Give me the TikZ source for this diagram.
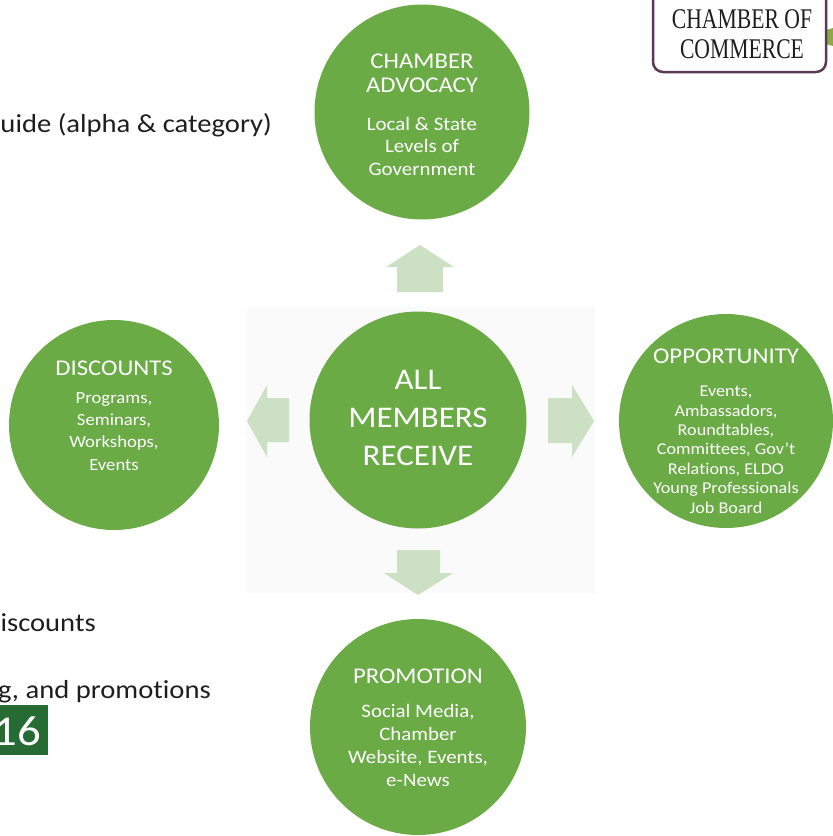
\documentclass[tikz,border=0pt]{standalone}
\usepackage{fontspec}
\setmainfont{Carlito}[FakeStretch=1.1, Ligatures=NoCommon]
\newfontfamily\sealfont{Liberation Serif}[FakeStretch=0.76]
\usepackage{xcolor}
\usepackage{tikz}
\definecolor{leafgreen}{RGB}{106,171,69}
\definecolor{flowgreen}{RGB}{204,224,196}
\definecolor{boxgreen}{RGB}{38,107,52}
\definecolor{sealrim}{RGB}{92,58,84}
\definecolor{sealtab}{RGB}{140,170,70}
\definecolor{inkgray}{RGB}{30,30,30}

\begin{document}
\begin{tikzpicture}[x=1pt,y=-1pt,
  bubble/.style={circle, fill=leafgreen, inner sep=0pt},
  flow/.style={fill=flowgreen},
  head/.style={anchor=base, align=center, text=white, inner sep=0pt,
    font=\fontsize{22.5}{24}\selectfont},
  body/.style={anchor=base, align=center, text=white, inner sep=0pt},
  slide/.style={anchor=base east, text=inkgray, inner sep=0pt,
    font=\fontsize{26}{30}\selectfont}]

  \clip (0,0) rectangle (833,836);
  \fill[black!2] (247,307) rectangle (595,593);

  % left part of the slide
  \node[slide] (guide) at (272,132) {uide (alpha \& category)};
  \node[slide] (disc2) at (96,631) {iscounts};
  \node[slide] (promo2) at (211,698) {g, and promotions};
  \fill[boxgreen] (-5,705) rectangle (48,755);
  \node[slide, text=white, font=\fontsize{42.5}{44}\selectfont] (year) at (41,745) {16};

  % seal in the corner
  \fill[sealtab] (826,30) -- (833,28) -- (833,46) -- (826,44) -- cycle;
  \draw[sealrim, line width=2.5pt, fill=white, rounded corners=10pt] (653,-20) rectangle (826,72);
  \node[anchor=base, align=center, text=inkgray, inner sep=0pt,
    font=\sealfont\fontsize{28.5}{30}\selectfont] (seal) at (742,58) {CHAMBER OF\\COMMERCE};

  % the five circles
  \node[bubble, minimum size=215pt] (adv) at (422,112) {};
  \node[bubble, minimum size=217pt] (hub) at (418,420) {};
  \node[bubble, minimum size=210pt] (disc) at (114,425) {};
  \node[bubble, minimum size=214pt] (opp) at (726,421) {};
  \node[bubble, minimum size=216pt] (promo) at (418,727) {};

  % block arrows
  \fill[flow] (397,292) -- (397,267) -- (386,267) -- (420,245) -- (454,267) -- (443,267) -- (443,292) -- cycle;
  \fill[flow] (289,398) -- (267,398) -- (267,385) -- (247,421) -- (267,457) -- (267,442) -- (289,442) -- cycle;
  \fill[flow] (548,398) -- (572,398) -- (572,385) -- (594,421) -- (572,457) -- (572,443) -- (548,443) -- cycle;
  \fill[flow] (397,550) -- (397,573) -- (384,573) -- (418,595) -- (453,573) -- (440,573) -- (440,550) -- cycle;

  % texts (base = last line)
  \node[head] (advhead) at (adv.center |- 0,92) {CHAMBER\\ADVOCACY};
  \node[body, font=\fontsize{19}{22.5}\selectfont] (advbody) at (adv.center |- 0,175) {Local \& State\\Levels of\\Government};

  \node[body, font=\fontsize{30}{38}\selectfont] (hubtext) at (hub.center |- 0,465) {ALL\\MEMBERS\\RECEIVE};

  \node[head] (dischead) at (disc.center |- 0,375) {DISCOUNTS};
  \node[body, font=\fontsize{17}{22.3}\selectfont] (discbody) at (disc.center |- 0,470) {Programs,\\Seminars,\\Workshops,\\Events};

  \node[head] (opphead) at (opp.center |- 0,363) {OPPORTUNITY};
  \node[body, font=\fontsize{16.5}{19.4}\selectfont] (oppbody) at (opp.center |- 0,513) {Events,\\Ambassadors,\\Roundtables,\\Committees, Gov't\\Relations, ELDO\\Young Professionals\\Job Board};

  \node[head] (promohead) at (promo.center |- 0,683) {PROMOTION};
  \node[body, font=\fontsize{19}{22.7}\selectfont] (promobody) at (promo.center |- 0,786) {Social Media,\\Chamber\\Website, Events,\\e-News};

\end{tikzpicture}
\end{document}
